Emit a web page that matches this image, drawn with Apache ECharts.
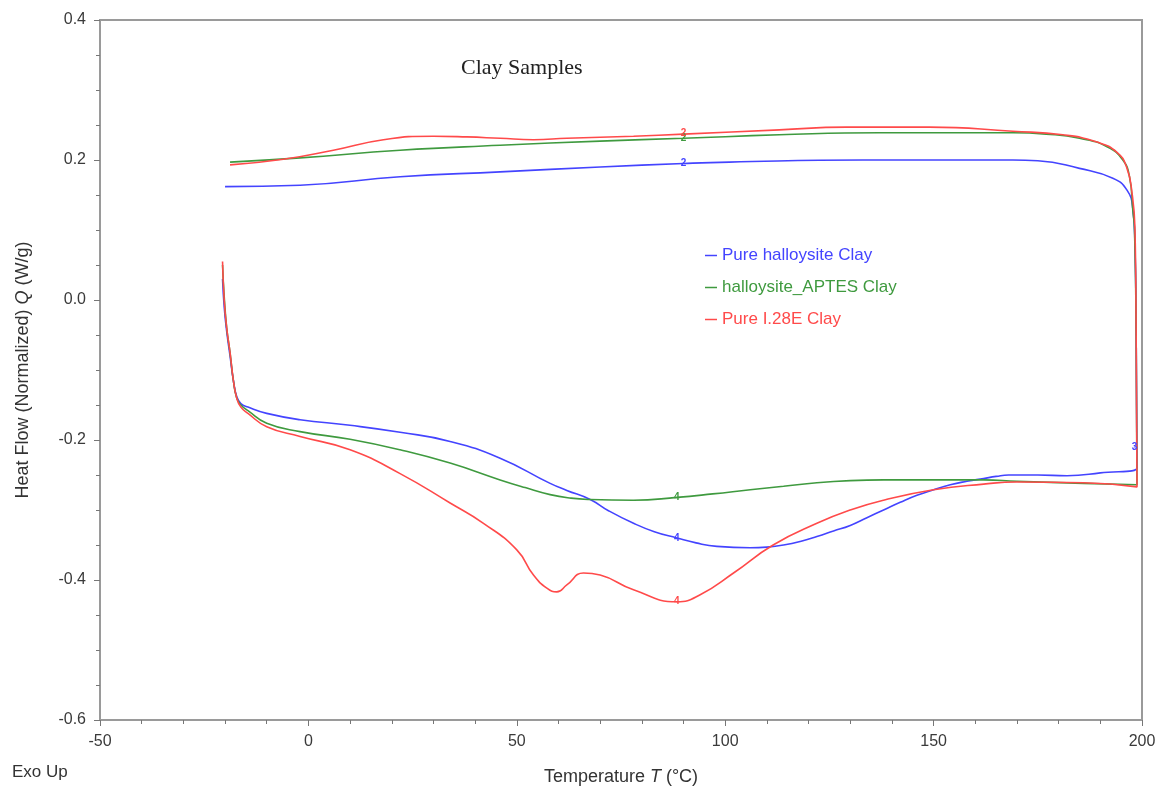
<!DOCTYPE html>
<html>
<head>
    <meta charset="utf-8"/>
    <style>
        html, body {
            height: 100%;
            margin: 0;
            padding: 0;
            background: #ffffff;
        }

        .container {
            width: 1163px;
            height: 791px;
        }
    </style>
</head>
<body>
<div id="main" class="container"></div>
<script src="https://cdn.jsdelivr.net/npm/echarts@6/dist/echarts.min.js"></script>
<script type="text/javascript">
    // 数据：每条曲线先升温(下方)、在200°C处跳变、再降温(上方)
    var seriesNames = ['Pure halloysite Clay', 'halloysite_APTES Clay', 'Pure I.28E Clay'];
    var seriesColors = ['#4444ff', '#3f9a3f', '#ff4a4a'];

    var haTemp = [-20.6, -20.2, -19.6, -18.8, -18, -17.2, -16.2, -14.5, -10, -2, 10, 22, 34, 46, 58, 62, 67.6, 72, 78, 83, 88.4, 93, 98, 106, 110, 114, 118, 122, 126, 130, 134, 138, 142, 146, 150, 154, 158, 162, 165, 168, 175, 182, 190, 198.8,
        198.6, 198.3, 197.8, 196.4, 193, 185, 175, 169, 133, 101, 90, 70, 46, 22, -2, -20];
    var haFlow = [0.03, -0.01, -0.045, -0.08, -0.115, -0.138, -0.148, -0.153, -0.162, -0.171, -0.179, -0.189, -0.202, -0.226, -0.262, -0.272, -0.285, -0.301, -0.319, -0.331, -0.340, -0.347, -0.352, -0.354, -0.353, -0.350, -0.345, -0.338, -0.330, -0.322, -0.311, -0.300, -0.289, -0.279, -0.271, -0.264, -0.259, -0.255, -0.252, -0.250, -0.250, -0.251, -0.247, -0.240,
        -0.05, 0.08, 0.13, 0.157, 0.174, 0.188, 0.199, 0.200, 0.200, 0.197, 0.195, 0.190, 0.183, 0.176, 0.164, 0.162];

    var apTemp = [-20.6, -20.2, -19.6, -18.8, -18, -17.2, -16.2, -14.5, -10, -2, 10, 22, 34, 46, 52, 58, 63, 67.6, 78, 88.4, 97, 106, 114, 122, 130, 138, 150, 162, 170, 186, 198.8,
        198.6, 198.2, 197.8, 197, 195.4, 191.6, 185, 177, 169, 137, 113, 90, 70, 46, 22, -2, -18.8];
    var apFlow = [0.05, 0.005, -0.04, -0.075, -0.115, -0.14, -0.15, -0.158, -0.176, -0.188, -0.199, -0.214, -0.233, -0.257, -0.268, -0.278, -0.283, -0.285, -0.286, -0.282, -0.277, -0.271, -0.266, -0.261, -0.258, -0.257, -0.257, -0.257, -0.259, -0.262, -0.264,
        -0.05, 0.1, 0.128, 0.176, 0.2, 0.219, 0.231, 0.237, 0.239, 0.239, 0.236, 0.231, 0.227, 0.221, 0.214, 0.203, 0.197];

    var leTemp = [-20.6, -20.2, -19.6, -18.8, -18, -17.2, -16.2, -14.5, -10, -2, 10, 22, 34, 42, 50, 54, 57.3, 59.6, 62, 66, 70, 78, 88.4, 94, 102, 111.5, 122, 130, 138, 150, 162, 170, 186, 198.8,
        198.6, 198.3, 197.6, 196.4, 194, 189, 181, 169, 149, 129, 113, 90, 78, 62, 54, 46, 38, 30, 18, 6, -6, -18.8];
    var leFlow = [0.055, 0.0, -0.04, -0.075, -0.115, -0.14, -0.153, -0.162, -0.181, -0.195, -0.214, -0.248, -0.290, -0.319, -0.357, -0.393, -0.412, -0.417, -0.407, -0.390, -0.393, -0.414, -0.431, -0.421, -0.390, -0.350, -0.319, -0.300, -0.286, -0.271, -0.263, -0.260, -0.261, -0.267,
        -0.05, 0.104, 0.153, 0.188, 0.211, 0.226, 0.236, 0.241, 0.247, 0.247, 0.243, 0.237, 0.234, 0.231, 0.229, 0.231, 0.233, 0.234, 0.229, 0.214, 0.201, 0.193];

    // 曲线上的小编号标记
    var tagText = [['2', '4', '3'], ['2', '4'], ['2', '4']];
    var tagTemp = [[90, 88.4, 198.2], [90, 88.4], [90, 88.4]];
    var tagFlow = [[0.195, -0.340, -0.21], [0.231, -0.282], [0.238, -0.431]];

    var xTicks = {min: -50, max: 200, interval: 50};
    var yTicks = {min: -0.6, max: 0.4, interval: 0.2};

    function pairs(t, q) {
        var out = [];
        for (var i = 0; i < t.length; i++) {
            out.push([t[i], q[i]]);
        }
        return out;
    }

    var curves = [pairs(haTemp, haFlow), pairs(apTemp, apFlow), pairs(leTemp, leFlow)];

    var myChart = echarts.init(document.getElementById('main'));

    var series = [];
    var legendData = [];
    for (var i = 0; i < curves.length; i++) {
        var tags = [];
        for (var k = 0; k < tagText[i].length; k++) {
            tags.push({coord: [tagTemp[i][k], tagFlow[i][k]], value: tagText[i][k]});
        }
        series.push({
            name: seriesNames[i],
            type: 'line',
            data: curves[i],
            smooth: 0.5,
            showSymbol: false,
            lineStyle: {color: seriesColors[i], width: 1.6},
            itemStyle: {color: seriesColors[i]},
            markPoint: {
                symbol: 'circle',
                symbolSize: 1,
                silent: true,
                label: {
                    show: true,
                    position: 'inside',
                    formatter: '{c}',
                    fontSize: 10,
                    fontWeight: 'bold',
                    fontFamily: 'Liberation Sans',
                    color: seriesColors[i]
                },
                data: tags
            }
        });
        legendData.push({name: seriesNames[i], textStyle: {color: seriesColors[i]}});
    }

    var nameRich = {
        a: {fontFamily: 'Liberation Sans', fontSize: 18, color: '#333333'},
        i: {fontFamily: 'Liberation Sans', fontStyle: 'italic', fontSize: 18, color: '#333333'}
    };

    var option = {
        animation: false,
        title: {
            text: 'Clay Samples',
            left: 456,
            top: 52,
            textStyle: {
                fontFamily: 'Liberation Serif',
                fontSize: 22,
                fontWeight: 'normal',
                color: '#222222'
            }
        },
        legend: {
            orient: 'vertical',
            left: 700,
            top: 242,
            icon: 'rect',
            itemWidth: 12,
            itemHeight: 1.5,
            itemGap: 15,
            selectedMode: false,
            data: legendData,
            textStyle: {
                fontFamily: 'Liberation Sans',
                fontSize: 17,
                padding: [0, 0, 0, 0]
            }
        },
        grid: {
            left: 100,
            right: 21,
            top: 20,
            bottom: 71,
            show: true,
            borderColor: '#9a9a9a',
            borderWidth: 2
        },
        xAxis: {
            type: 'value',
            min: xTicks.min,
            max: xTicks.max,
            interval: xTicks.interval,
            name: '{a|Temperature }{i|T}{a| (°C)}',
            nameLocation: 'middle',
            nameGap: 48,
            nameTextStyle: {rich: nameRich},
            axisLine: {onZero: false, lineStyle: {color: '#9a9a9a', width: 2}},
            axisTick: {length: 6, lineStyle: {color: '#777777'}},
            minorTick: {show: true, splitNumber: 5, length: 4, lineStyle: {color: '#777777'}},
            splitLine: {show: false},
            axisLabel: {
                fontFamily: 'Liberation Sans',
                fontSize: 16,
                color: '#3a3a3a',
                margin: 14
            }
        },
        yAxis: {
            type: 'value',
            min: yTicks.min,
            max: yTicks.max,
            interval: yTicks.interval,
            name: '{a|Heat Flow (Normalized) }{i|Q}{a| (W/g)}',
            nameLocation: 'middle',
            nameGap: 68,
            nameTextStyle: {rich: nameRich},
            axisLine: {onZero: false, lineStyle: {color: '#9a9a9a', width: 2}},
            axisTick: {length: 6, lineStyle: {color: '#777777'}},
            minorTick: {show: true, splitNumber: 4, length: 4, lineStyle: {color: '#777777'}},
            splitLine: {show: false},
            axisLabel: {
                fontFamily: 'Liberation Sans',
                fontSize: 16,
                color: '#3a3a3a',
                margin: 14,
                formatter: function (v) {
                    return v.toFixed(1);
                }
            }
        },
        graphic: [{
            type: 'text',
            left: 12,
            top: 764,
            style: {
                text: 'Exo Up',
                font: '17px "Liberation Sans"',
                fill: '#333333'
            }
        }],
        series: series
    };

    myChart.setOption(option);
</script>
</body>
</html>
